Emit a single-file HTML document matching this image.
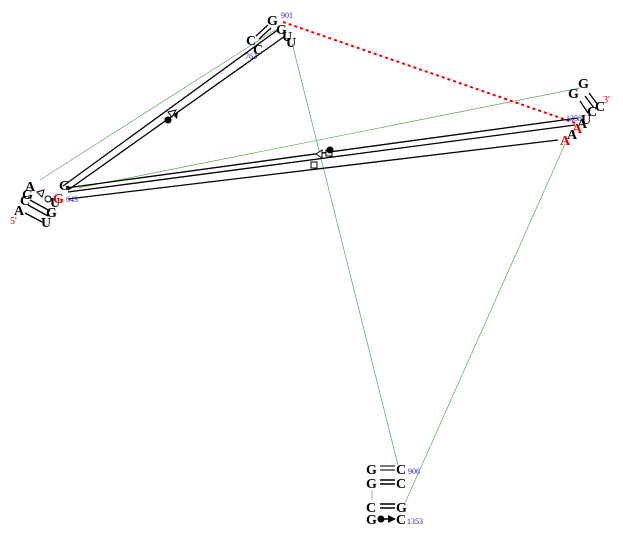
<!DOCTYPE html>
<html><head><style>
body{margin:0;background:#fff}
svg{display:block}
text{font-family:"Liberation Serif",serif;font-weight:bold;font-size:14px}
.b{fill:#1a1acc;font-size:8px;font-weight:normal}
.r{fill:#e00}
</style></head><body>
<svg width="623" height="540" viewBox="0 0 623 540" xmlns="http://www.w3.org/2000/svg">
<g stroke="#5a5" stroke-width="0.7" fill="none">
<line x1="40" y1="180" x2="275" y2="30"/>
<line x1="78" y1="188" x2="580" y2="88"/>
<line x1="292" y1="43" x2="398" y2="465"/>
<line x1="405" y1="503" x2="565" y2="144"/>
<line x1="372" y1="490" x2="372" y2="500"/>
</g>
<line x1="283" y1="22" x2="578" y2="124" stroke="#e00" stroke-width="2" stroke-dasharray="3,3"/>
<g stroke="#000" stroke-width="1.3" fill="none">
<line x1="63" y1="186" x2="279" y2="29"/>
<line x1="68" y1="190" x2="285" y2="36"/>
<line x1="66" y1="188" x2="578" y2="118"/>
<line x1="68" y1="192" x2="575" y2="125"/>
<line x1="68" y1="199" x2="558" y2="140"/>
<line x1="256" y1="36" x2="268" y2="25"/>
<line x1="259" y1="39" x2="271" y2="28"/>
<line x1="585" y1="96" x2="594" y2="108"/>
<line x1="589" y1="93" x2="598" y2="105"/>
<line x1="580" y1="101" x2="588" y2="113"/>
<line x1="30" y1="200" x2="50" y2="211"/>
<line x1="28" y1="205" x2="48" y2="216"/>
<line x1="25" y1="213" x2="42" y2="222"/>
</g>
<g stroke="#000" stroke-width="1" fill="#fff">
<circle cx="48" cy="199" r="3"/>
<polygon points="37,192 44,190 42,197"/>
<polygon points="168,112 176,110 172,117"/>
<polygon points="316,154 322,150 322,158"/>
<rect x="326" y="150" width="6" height="6"/>
<rect x="311" y="162" width="6" height="6"/>
</g>
<circle cx="168" cy="120" r="3.5" fill="#000"/>
<polygon points="174,116 178,112 177,119" fill="#000"/>
<circle cx="330" cy="150" r="3.5" fill="#000"/>
<g stroke="#000" stroke-width="1.5" fill="#000">
<line x1="380" y1="466" x2="395" y2="466" stroke="#777" stroke-width="2"/>
<line x1="380" y1="470" x2="395" y2="470" stroke="#777" stroke-width="2"/>
<line x1="380" y1="480" x2="395" y2="480"/>
<line x1="380" y1="484" x2="395" y2="484"/>
<line x1="380" y1="504" x2="395" y2="504"/>
<line x1="380" y1="508" x2="395" y2="508"/>
<line x1="380" y1="519" x2="390" y2="519"/>
</g>
<circle cx="381" cy="519" r="3.5" fill="#000"/>
<polygon points="388,515 396,519 388,523" fill="#000"/>
<text x="267" y="25">G</text><text x="281" y="18" class="b">901</text>
<text x="246" y="45">C</text><text x="253" y="54">C</text>
<text x="276" y="34">G</text><text x="282" y="41">U</text><text x="286" y="47">U</text>
<text x="245" y="59" class="b">763</text>
<text x="25" y="191">A</text><text x="22" y="199">G</text><text x="20" y="205">C</text>
<text x="14" y="215">A</text><text x="10" y="224" class="r" style="font-weight:normal;font-size:10px">5'</text>
<text x="59" y="190">G</text><text x="50" y="207">U</text><text x="53" y="203" class="r">G</text>
<text x="66" y="202" class="b">643</text>
<text x="46" y="217">G</text><text x="41" y="227">U</text>
<text x="578" y="88">G</text><text x="568" y="98">G</text>
<text x="595" y="111">C</text><text x="587" y="116">C</text>
<text x="603" y="103" class="r" style="font-weight:normal;font-size:10px">3'</text>
<text x="581" y="124">U</text><text x="566" y="121" class="b">1358</text>
<text x="577" y="128">A</text><text x="572" y="133" class="r">A</text>
<text x="567" y="139">A</text><text x="560" y="145" class="r">A</text>
<text x="366" y="474">G</text><text x="396" y="474">C</text><text x="408" y="474" class="b">906</text>
<text x="366" y="488">G</text><text x="396" y="488">C</text>
<text x="366" y="512">C</text><text x="396" y="512">G</text>
<text x="366" y="524">G</text><text x="396" y="524">C</text><text x="407" y="524" class="b">1353</text>
</svg>
</body></html>
